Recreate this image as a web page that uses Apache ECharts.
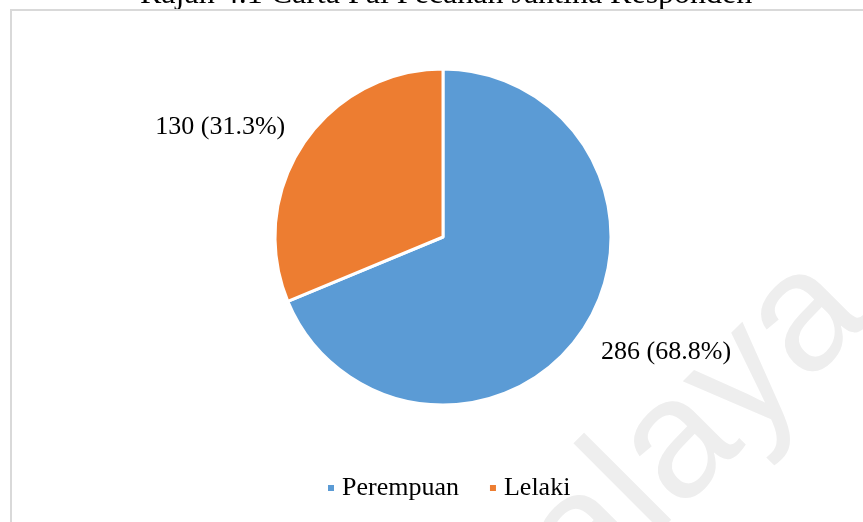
<!DOCTYPE html>
<html>
<head>
<meta charset="utf-8">
<script src="https://cdn.jsdelivr.net/npm/echarts@6/dist/echarts.min.js"></script>
<style>
    html, body { margin: 0; padding: 0; background: #fff; }
    #chart { width: 863px; height: 522px; }
</style>
</head>
<body>
<div id="chart"></div>
<script>
var categories = ['Perempuan', 'Lelaki'];
var values = [286, 130];
var colors = ['#5b9bd5', '#ed7d31'];
var titleText = 'Rajah 4.1 Carta Pai Pecahan Jantina Responden';

var total = values.reduce(function (a, b) { return a + b; }, 0);

var myChart = echarts.init(document.getElementById('chart'));

var serif = '"Liberation Serif", "Times New Roman", serif';

var option = {
    animation: false,
    graphic: [
        {
            // title, cropped at the top like the scanned page
            type: 'text',
            x: 140,
            y: 11,
            style: {
                text: titleText,
                font: '32px ' + serif,
                fill: '#000',
                align: 'left',
                verticalAlign: 'bottom'
            },
            silent: true
        },
        {
            type: 'rect',
            shape: { x: 11, y: 10, width: 900, height: 600 },
            style: { fill: null, stroke: '#d9d9d9', lineWidth: 2 },
            silent: true
        },
        {
            type: 'text',
            x: 900,
            y: 345,
            rotation: Math.PI / 4,
            style: {
                text: 'Universiti Malaya',
                font: '170px "Liberation Sans"',
                fill: '#eeeeee',
                align: 'right',
                verticalAlign: 'bottom'
            },
            z: -10,
            silent: true
        }
    ],
    legend: {
        bottom: 16,
        left: 321,
        icon: 'rect',
        itemWidth: 8,
        itemHeight: 8,
        itemGap: 29,
        textStyle: {
            fontFamily: serif,
            fontSize: 26,
            color: '#000',
            padding: [0, 0, 0, 2]
        },
        data: categories
    },
    color: colors,
    series: [
        {
            type: 'pie',
            center: [443, 237],
            radius: 168,
            startAngle: 90,
            clockwise: true,
            avoidLabelOverlap: false,
            itemStyle: {
                borderColor: '#fff',
                borderWidth: 3
            },
            label: {
                show: true,
                position: 'outside',
                fontFamily: serif,
                fontSize: 26,
                color: '#000',
                formatter: function (p) {
                    return p.value + ' (' + (Math.round(p.value * 1000 / total) / 10).toFixed(1) + '%)';
                }
            },
            labelLine: { show: false },
            data: [
                { name: categories[0], value: values[0], labelLine: { length: 39, length2: -19 } },
                { name: categories[1], value: values[1], labelLine: { length: 29, length2: -11 } }
            ]
        }
    ]
};

myChart.setOption(option);
</script>
</body>
</html>
